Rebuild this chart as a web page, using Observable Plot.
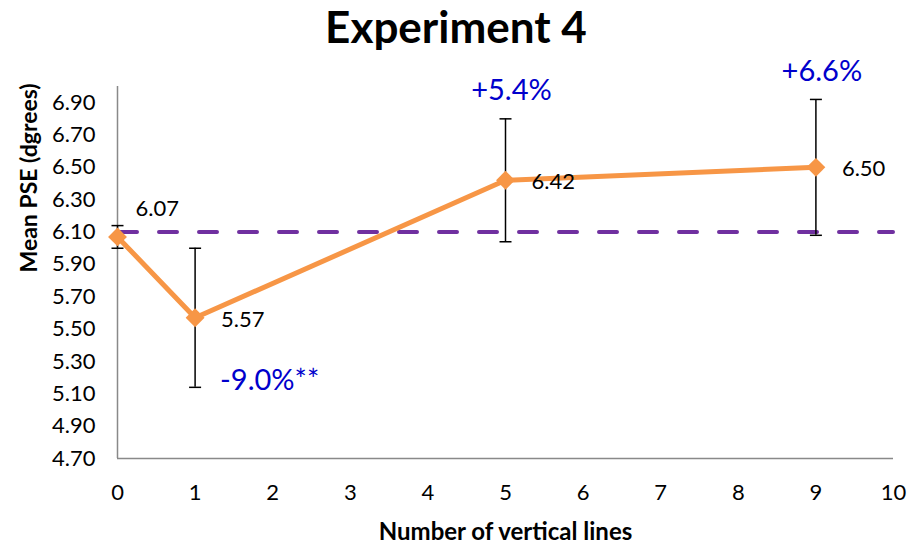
<!DOCTYPE html>
<html>
<head>
<meta charset="utf-8">
<script src="https://cdn.jsdelivr.net/npm/d3@7"></script>
<script src="https://cdn.jsdelivr.net/npm/@observablehq/plot@0.6"></script>
<style>
  html, body { margin: 0; padding: 0; background: #fff; }
  #title { width: 912px; height: 50px; line-height: 52px; text-align: center;
           font-family: Lato, "Open Sans", sans-serif; font-weight: bold; font-size: 44px; color: #000; }
</style>
</head>
<body>
<div id="title">Experiment 4</div>
<div id="chart"></div>
<script>
// ---- data ----
const xValues = [0, 1, 5, 9];
const means = [6.07, 5.57, 6.42, 6.50];
const errors = [0.07, 0.43, 0.38, 0.42];
const valueLabels = ["6.07", "5.57", "6.42", "6.50"];
const pctLabels = ["", "-9.0%**", "+5.4%", "+6.6%"];
const baseline = 6.10;
const yTicks = [4.7, 4.9, 5.1, 5.3, 5.5, 5.7, 5.9, 6.1, 6.3, 6.5, 6.7, 6.9];
const xTicks = [0, 1, 2, 3, 4, 5, 6, 7, 8, 9, 10];
const xTitle = "Number of vertical lines";
const yTitle = "Mean PSE (dgrees)";

const rows = xValues.map((x, i) => ({
  x, mean: means[i], lo: means[i] - errors[i], hi: means[i] + errors[i],
  label: valueLabels[i], pct: pctLabels[i], i
}));

const font = "Lato, 'Open Sans', sans-serif";
const capSymbol = { draw(ctx) { ctx.moveTo(-6, 0); ctx.lineTo(6, 0); } };

const plot = Plot.plot({
  width: 912,
  height: 496,
  marginTop: 36,
  marginBottom: 88,
  marginLeft: 117,
  marginRight: 19,
  style: { fontFamily: font, background: "#fff" },
  x: { domain: [0, 10] },
  y: { domain: [4.7, 7.0] },
  marks: [
    Plot.axisY({ ticks: yTicks, tickFormat: d3.format(".2f"), tickSize: 0, tickPadding: 22, fontSize: 22, label: null, color: "#000" }),
    Plot.axisX({ ticks: xTicks, tickFormat: d3.format("d"), tickSize: 0, tickPadding: 26, fontSize: 22, label: null, color: "#000" }),
    Plot.ruleX([0], { stroke: "#898989", strokeWidth: 1.5 }),
    Plot.ruleY([4.7], { stroke: "#898989", strokeWidth: 1.5 }),
    Plot.ruleY([baseline], { stroke: "#7030A0", strokeWidth: 4, strokeDasharray: "18,22", strokeDashoffset: -2, strokeLinecap: "round" }),
    Plot.ruleX(rows, { x: "x", y1: "lo", y2: "hi", stroke: "#000", strokeWidth: 1.5 }),
    Plot.dot(rows, { x: "x", y: "lo", symbol: capSymbol, stroke: "#000", strokeWidth: 1.5, r: 6 }),
    Plot.dot(rows, { x: "x", y: "hi", symbol: capSymbol, stroke: "#000", strokeWidth: 1.5, r: 6 }),
    Plot.line(rows, { x: "x", y: "mean", stroke: "#F79646", strokeWidth: 5 }),
    Plot.dot(rows, { x: "x", y: "mean", symbol: "diamond2", fill: "#F79646", stroke: "none", r: 8.5 }),
    Plot.text(rows.filter(d => d.i === 0), { x: "x", y: "mean", text: "label", textAnchor: "start", dx: 18, dy: -28, fontSize: 22, fill: "#000" }),
    Plot.text(rows.filter(d => d.i > 0), { x: "x", y: "mean", text: "label", textAnchor: "start", dx: 26, dy: 2, fontSize: 22, fill: "#000" }),
    Plot.text(rows.filter(d => d.pct.startsWith("-")), { x: "x", y: "lo", text: "pct", textAnchor: "start", dx: 25, dy: -7, fontSize: 29, fill: "#0000CC" }),
    Plot.text(rows.filter(d => d.pct.startsWith("+")), { x: "x", y: "hi", text: "pct", textAnchor: "middle", dx: 6, dy: -28, fontSize: 29, fill: "#0000CC" }),
    Plot.text([yTitle], { frameAnchor: "left", lineAnchor: "middle", rotate: -90, dx: -88, fontSize: 23, fontWeight: "bold", fill: "#000" }),
    Plot.text([xTitle], { frameAnchor: "bottom", lineAnchor: "middle", dy: 74, fontSize: 24, fontWeight: "bold", fill: "#000" })
  ]
});
document.getElementById("chart").appendChild(plot);
</script>
</body>
</html>
